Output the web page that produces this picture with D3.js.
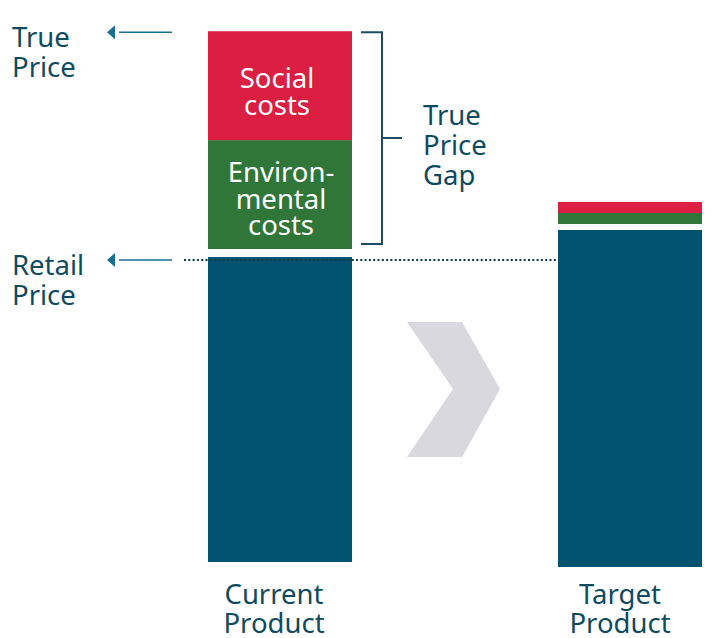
<!DOCTYPE html>
<html>
<head>
<meta charset="utf-8">
<script src="https://cdn.jsdelivr.net/npm/d3@7"></script>
<style>
  html, body { margin: 0; padding: 0; background: #fff; }
  svg { display: block; font-family: "Noto Sans", "Open Sans", sans-serif; }
</style>
</head>
<body>
<div class="container"></div>
<script>
// data
const products = ["Current Product", "Target Product"];
const retailValues = [100, 110.5];
const envValues = [35.7, 3.6];
const socialValues = [35.7, 3.6];
const segmentLabels = [["Environ-", "mental", "costs"], ["Social", "costs"]];
const levelLabels = [["True", "Price"], ["Retail", "Price"]];
const gapLabel = ["True", "Price", "Gap"];

// layout
const W = 725, H = 638;
const barWidth = 144;
const baseY = [562, 567];     // bar bottoms
const segGap = [8, 6];        // white gap above the blue part
const labelDx = [-6, -10];
const fontSize = "27.5px";
const colors = { retail: "#02536f", env: "#2f7638", social: "#db1e41", text: "#0e4a60", arrow: "#1a6f8f", chevron: "#d8d8de" };

const svg = d3.select(".container").append("svg")
  .attr("width", W).attr("height", H);

const x = d3.scalePoint().domain(products).range([280, 630]);
const pxPerUnit = d3.scaleLinear().domain([0, 100]).range([0, 305]);

function multiline(lines, cx, y0, lh, fill, anchor) {
  const t = svg.append("text").attr("x", cx).attr("y", y0)
    .attr("text-anchor", anchor).attr("fill", fill).style("font-size", fontSize);
  t.selectAll("tspan").data(lines).join("tspan")
    .attr("x", cx).attr("dy", (d, j) => j ? lh : 0).text(d => d);
}

// chevron arrow between the bars
svg.append("path")
  .attr("d", "M407,322 L462,322 L500,389 L462,457 L407,457 L453,389 Z")
  .attr("fill", colors.chevron);

const tops = [];
products.forEach((p, i) => {
  const cx = x(p);
  const x0 = cx - barWidth / 2;
  const bottom = baseY[i];
  const retailTop = bottom - pxPerUnit(retailValues[i]);
  const envBottom = retailTop - segGap[i];
  const envTop = envBottom - pxPerUnit(envValues[i]);
  const socialTop = envTop - pxPerUnit(socialValues[i]);
  tops.push({ retailTop, envBottom, envTop, socialTop });

  svg.append("rect").attr("x", x0).attr("y", retailTop).attr("width", barWidth)
    .attr("height", bottom - retailTop).attr("fill", colors.retail);
  svg.append("rect").attr("x", x0).attr("y", envTop).attr("width", barWidth)
    .attr("height", envBottom - envTop).attr("fill", colors.env);
  svg.append("rect").attr("x", x0).attr("y", socialTop).attr("width", barWidth)
    .attr("height", envTop - socialTop).attr("fill", colors.social);

  // category label
  multiline(p.split(" "), cx + labelDx[i], 604, 29, colors.text, "middle");
});

// labels inside the current bar
const c = tops[0];
multiline(segmentLabels[1], x(products[0]) - 3, c.socialTop + 57, 27, "#fff", "middle");
multiline(segmentLabels[0], x(products[0]) + 1, c.envTop + 42, 26.5, "#fff", "middle");

// dotted retail line
const retailLineY = c.retailTop + 3;
svg.append("line")
  .attr("x1", 184).attr("x2", x(products[1]) - barWidth / 2)
  .attr("y1", retailLineY).attr("y2", retailLineY)
  .attr("stroke", "#0e3a4c").attr("stroke-width", 2)
  .attr("stroke-dasharray", "2,2.3");

// left arrows + labels
const levelY = [c.socialTop + 1, retailLineY];
levelY.forEach((ly, i) => {
  svg.append("line").attr("x1", 119).attr("x2", 172).attr("y1", ly).attr("y2", ly)
    .attr("stroke", colors.arrow).attr("stroke-width", 1.5);
  svg.append("path")
    .attr("d", `M107,${ly} L115,${ly - 7} L115,${ly + 7} Z`)
    .attr("fill", colors.arrow);
  multiline(levelLabels[i], 12, ly + 15, 30, colors.text, "start");
});

// bracket for true price gap
const bx = 382, bTop = c.socialTop + 1, bBot = c.envBottom - 5;
svg.append("path")
  .attr("d", `M361,${bTop} H${bx} V${bBot} H361 M${bx},${(bTop + bBot) / 2} H402`)
  .attr("fill", "none").attr("stroke", "#1c4d63").attr("stroke-width", 2);
multiline(gapLabel, 423, 125, 30, colors.text, "start");
</script>
</body>
</html>
